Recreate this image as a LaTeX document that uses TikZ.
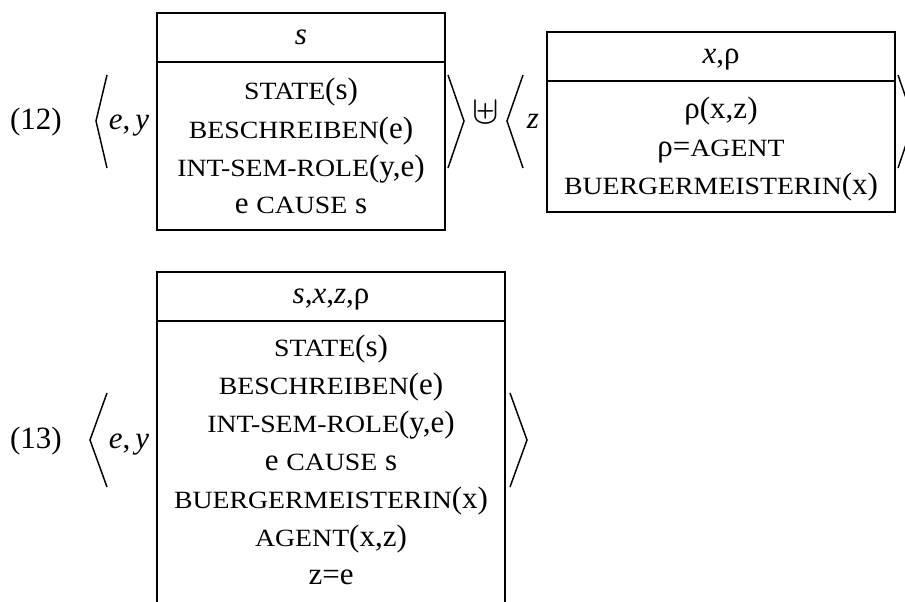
\documentclass[tikz,border=0pt]{standalone}
\usepackage{fontspec}
\usepackage{graphicx}
\setmainfont{Liberation Serif}
% wide, reduced capitals standing in for small caps
\newfontfamily\scserif[FakeStretch=1.12]{Liberation Serif}
\newcommand\smc[1]{{\scserif\fontsize{18.6pt}{22pt}\selectfont #1}}
\newcommand\iv[1]{\textit{#1}}

\tikzset{
  ln/.style={anchor=base, inner sep=0pt, font=\fontsize{23.25pt}{28pt}\selectfont},
  drsbox/.style={line width=1.5pt},
  angle/.style={line width=1.1pt, line join=miter},
}

\begin{document}
\begin{tikzpicture}[x=0.75pt, y=-0.75pt]
\clip (0,0) rectangle (905,601);
\fill[white] (0,0) rectangle (905,601);

% ---------- (12) ----------
\node[ln] (n12) at (36,129) {(12)};
\draw[angle] (107,75) -- (96,121) -- (107,168);
\node[ln] (ey1) at (129,129) {\iv{e},\,\iv{y}};

% first box
\draw[drsbox] (157,13) rectangle (445,230);
\draw[drsbox] (157,62) -- (445,62);
\node[ln] (h1) at (301,44) {\iv{s}};
\node[ln] (a1) at (301,99)  {\smc{STATE}(s)};
\node[ln] (a2) at (301,138) {\smc{BESCHREIBEN}(e)};
\node[ln] (a3) at (301,176) {\smc{INT-SEM-ROLE}(y,e)};
\node[ln] (a4) at (301,213) {e \smc{CAUSE} s};
\draw[angle] (448,75) -- (464,121) -- (448,168);

% merge
\node[anchor=center, inner sep=0pt] (merge) at (486,112)
  {\fontsize{23.25pt}{28pt}\selectfont\scalebox{1.2}{$\uplus$}};

% second box
\draw[angle] (523,75) -- (507,121) -- (523,168);
\node[ln] (z1) at (533,128) {\iv{z}};
\draw[drsbox] (547,32) rectangle (895,212);
\draw[drsbox] (547,81) -- (895,81);
\node[ln] (h2) at (721,63) {\iv{x},ρ};
\node[ln] (b1) at (721,118) {ρ(x,z)};
\node[ln] (b2) at (721,156) {ρ=\smc{AGENT}};
\node[ln] (b3) at (721,194) {\smc{BUERGERMEISTERIN}(x)};
\draw[angle] (898,75) -- (914,121) -- (898,168);

% ---------- (13) ----------
\node[ln] (n13) at (36,448) {(13)};
\draw[angle] (107,393) -- (90,440) -- (107,487);
\node[ln] (ey2) at (129,448) {\iv{e},\,\iv{y}};

% merged box
\draw[drsbox] (157,610) -- (157,272) -- (505,272) -- (505,610);
\draw[drsbox] (157,321) -- (505,321);
\node[ln] (h3) at (331,303) {\iv{s},\iv{x},\iv{z},ρ};
\node[ln] (c1) at (331,356) {\smc{STATE}(s)};
\node[ln] (c2) at (331,394) {\smc{BESCHREIBEN}(e)};
\node[ln] (c3) at (331,432) {\smc{INT-SEM-ROLE}(y,e)};
\node[ln] (c4) at (331,470) {e \smc{CAUSE} s};
\node[ln] (c5) at (331,508) {\smc{BUERGERMEISTERIN}(x)};
\node[ln] (c6) at (331,546) {\smc{AGENT}(x,z)};
\node[ln] (c7) at (331,584) {z=e};
\draw[angle] (510,393) -- (527,440) -- (510,487);
\end{tikzpicture}
\end{document}
